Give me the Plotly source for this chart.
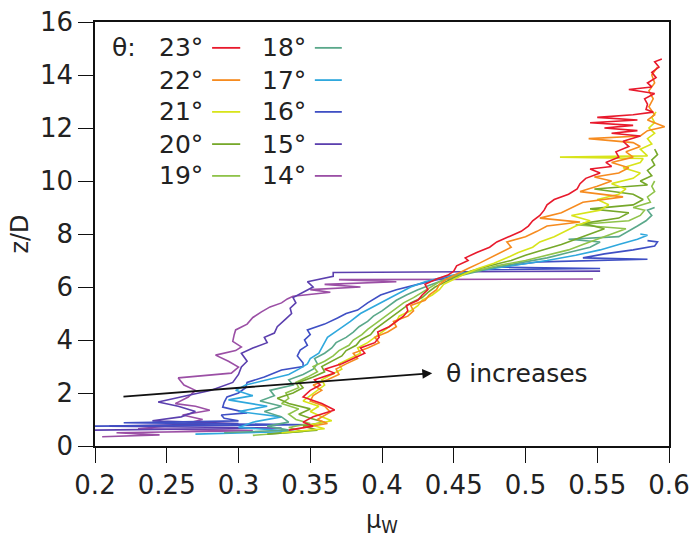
import plotly.graph_objects as go

# ---------------- data (z/D, mu_W) pairs ----------------
theta = [23, 22, 21, 20, 19, 18, 17, 16, 15, 14]
colors = ['#e8192c', '#f68b1f', '#d8e41a', '#76a82a', '#8fc34a',
          '#5aa88a', '#2fa8dd', '#3f4fc4', '#5b3fae', '#9b4fa5']

curve_23 = [(0.6,0.335),(0.75,0.352),(0.9,0.345),(1.1,0.352),(1.36,0.367),(1.6,0.358),(1.85,0.345),
            (2.1,0.350),(2.3,0.357),(2.5,0.353),(2.75,0.367),(2.9,0.360),(3.1,0.372),(3.3,0.380),
            (3.5,0.388),(3.7,0.385),(3.9,0.395),(4.1,0.398),(4.3,0.397),(4.5,0.405),(4.7,0.410),
            (4.9,0.415),(5.1,0.418),(5.3,0.417),(5.5,0.425),(5.7,0.428),(5.9,0.432),(6.1,0.430),
            (6.3,0.438),(6.45,0.446),(6.6,0.450),(6.8,0.452),(7.0,0.460),(7.1,0.458),(7.3,0.466),
            (7.5,0.475),(7.7,0.480),(7.9,0.488),(8.1,0.497),(8.3,0.502),(8.5,0.505),(8.7,0.510),
            (8.9,0.513),(9.1,0.515),(9.3,0.520),(9.5,0.530),(9.7,0.536),(9.9,0.538),(10.1,0.542),
            (10.3,0.552),(10.45,0.545),(10.55,0.560),(10.7,0.556),(10.9,0.565),(11.1,0.563),
            (11.3,0.572),(11.5,0.568),(11.7,0.580),(11.8,0.560),(11.9,0.578),(12.0,0.555),
            (12.1,0.575),(12.2,0.545),(12.3,0.578),(12.4,0.550),(12.5,0.575),(12.6,0.589),
            (12.7,0.584),(12.9,0.585),(13.1,0.583),(13.3,0.590),(13.45,0.572),(13.55,0.588),
            (13.7,0.585),(13.9,0.591),(14.1,0.588),(14.3,0.593),(14.5,0.590),(14.6,0.595)]

curve_22 = [(0.7,0.345),(0.85,0.362),(1.0,0.355),(1.28,0.364),(1.5,0.360),(1.7,0.350),(1.9,0.352),
            (2.1,0.358),(2.3,0.352),(2.5,0.362),(2.7,0.370),(2.9,0.368),(3.1,0.375),(3.3,0.383),
            (3.5,0.380),(3.7,0.390),(3.9,0.398),(4.1,0.395),(4.3,0.404),(4.5,0.410),(4.7,0.408),
            (4.9,0.418),(5.1,0.422),(5.3,0.420),(5.5,0.430),(5.7,0.433),(5.9,0.438),(6.1,0.440),
            (6.3,0.445),(6.5,0.452),(6.7,0.460),(6.9,0.468),(7.1,0.475),(7.3,0.482),(7.5,0.490),
            (7.7,0.487),(7.9,0.500),(8.1,0.508),(8.3,0.515),(8.45,0.538),(8.6,0.510),(8.8,0.525),
            (9.0,0.533),(9.2,0.540),(9.4,0.568),(9.6,0.538),(9.8,0.550),(10.0,0.560),(10.15,0.548),
            (10.3,0.565),(10.5,0.572),(10.7,0.560),(10.9,0.575),(11.1,0.570),(11.3,0.580),
            (11.45,0.575),(11.6,0.544),(11.7,0.580),(11.9,0.585),(12.05,0.597),(12.3,0.585),
            (12.5,0.590),(12.8,0.586),(13.1,0.589),(13.4,0.586),(13.7,0.590),(14.0,0.588),(14.3,0.592)]

curve_21 = [(0.5,0.330),(0.65,0.360),(0.8,0.350),(0.95,0.365),(1.1,0.358),(1.3,0.350),(1.5,0.356),
            (1.7,0.345),(1.9,0.350),(2.1,0.355),(2.3,0.360),(2.5,0.358),(2.7,0.365),(2.9,0.372),
            (3.1,0.370),(3.3,0.378),(3.5,0.385),(3.7,0.383),(3.9,0.390),(4.1,0.395),(4.3,0.400),
            (4.5,0.405),(4.7,0.410),(4.9,0.412),(5.1,0.420),(5.3,0.425),(5.5,0.428),(5.7,0.435),
            (5.9,0.440),(6.1,0.443),(6.3,0.450),(6.5,0.458),(6.7,0.467),(6.9,0.478),(7.1,0.487),
            (7.3,0.495),(7.5,0.505),(7.7,0.510),(7.9,0.520),(8.1,0.528),(8.3,0.535),(8.5,0.545),
            (8.7,0.532),(8.9,0.552),(9.1,0.558),(9.3,0.550),(9.5,0.565),(9.7,0.570),(9.9,0.560),
            (10.1,0.575),(10.3,0.580),(10.5,0.568),(10.7,0.580),(10.85,0.582),(10.9,0.524),
            (10.95,0.585),(11.2,0.580),(11.4,0.588),(11.6,0.585),(11.8,0.590),(12.0,0.586),
            (12.2,0.590),(12.4,0.588),(12.6,0.591)]

curve_20 = [(0.45,0.320),(0.6,0.355),(0.75,0.345),(0.9,0.360),(1.05,0.350),(1.2,0.342),(1.4,0.350),
            (1.6,0.335),(1.8,0.327),(2.0,0.338),(2.2,0.345),(2.4,0.342),(2.6,0.352),(2.8,0.360),
            (3.0,0.358),(3.2,0.365),(3.4,0.372),(3.6,0.375),(3.8,0.382),(4.0,0.385),(4.2,0.392),
            (4.4,0.395),(4.6,0.400),(4.8,0.405),(5.0,0.410),(5.2,0.415),(5.4,0.420),(5.6,0.428),
            (5.8,0.432),(6.0,0.437),(6.2,0.444),(6.4,0.452),(6.6,0.462),(6.8,0.475),(7.0,0.490),
            (7.2,0.500),(7.4,0.512),(7.6,0.525),(7.8,0.535),(8.0,0.545),(8.2,0.555),(8.4,0.540),
            (8.6,0.565),(8.8,0.572),(8.95,0.545),(9.1,0.575),(9.3,0.582),(9.5,0.575),(9.7,0.548),
            (9.85,0.585),(10.0,0.580),(10.2,0.588),(10.4,0.585),(10.6,0.590),(10.8,0.588),(11.0,0.592),
            (11.2,0.590)]

curve_19 = [(0.4,0.310),(0.55,0.345),(0.7,0.335),(0.85,0.350),(1.0,0.340),(1.2,0.335),(1.4,0.342),
            (1.6,0.330),(1.8,0.335),(2.0,0.333),(2.2,0.342),(2.4,0.340),(2.6,0.348),(2.8,0.355),
            (3.0,0.352),(3.2,0.360),(3.4,0.366),(3.6,0.370),(3.8,0.377),(4.0,0.380),(4.2,0.386),
            (4.4,0.390),(4.6,0.395),(4.8,0.400),(5.0,0.405),(5.2,0.410),(5.4,0.415),(5.6,0.422),
            (5.8,0.428),(6.0,0.433),(6.2,0.440),(6.4,0.450),(6.6,0.465),(6.8,0.480),(7.0,0.500),
            (7.2,0.515),(7.4,0.530),(7.6,0.540),(7.8,0.550),(8.0,0.560),(8.2,0.570),(8.35,0.535),
            (8.5,0.572),(8.7,0.580),(8.9,0.583),(9.0,0.575),(9.2,0.587),(9.4,0.585),(9.6,0.590),
            (9.8,0.588),(10.0,0.590)]

curve_18 = [(0.5,0.290),(0.6,0.335),(0.75,0.320),(0.9,0.335),(1.1,0.330),(1.3,0.318),(1.5,0.330),
            (1.7,0.315),(1.9,0.325),(2.1,0.322),(2.3,0.338),(2.5,0.335),(2.7,0.345),(2.9,0.352),
            (3.1,0.355),(3.3,0.353),(3.5,0.360),(3.7,0.365),(3.9,0.368),(4.1,0.375),(4.3,0.380),
            (4.5,0.384),(4.7,0.390),(4.9,0.394),(5.1,0.400),(5.3,0.405),(5.5,0.410),(5.7,0.417),
            (5.9,0.425),(6.1,0.435),(6.3,0.445),(6.5,0.460),(6.7,0.475),(6.9,0.495),(7.1,0.515),
            (7.3,0.530),(7.5,0.545),(7.7,0.552),(7.8,0.530),(7.9,0.565),(8.1,0.572),(8.3,0.578),
            (8.5,0.584),(8.7,0.588),(8.9,0.585),(9.0,0.590)]

curve_17 = [(0.45,0.270),(0.55,0.340),(0.7,0.300),(0.9,0.310),(1.1,0.330),(1.3,0.300),(1.5,0.320),
            (1.74,0.293),(1.9,0.310),(2.1,0.298),(2.3,0.305),(2.5,0.320),(2.7,0.335),(2.9,0.342),
            (3.1,0.348),(3.3,0.350),(3.5,0.356),(3.7,0.358),(3.9,0.360),(4.1,0.362),(4.4,0.370),
            (4.7,0.378),(5.0,0.385),(5.2,0.392),(5.4,0.398),(5.6,0.405),(5.8,0.412),(6.0,0.420),
            (6.2,0.430),(6.4,0.445),(6.6,0.465),(6.8,0.490),(7.0,0.515),(7.2,0.535),(7.4,0.552),
            (7.6,0.565),(7.8,0.578),(7.95,0.585),(8.0,0.580)]

curve_16 = [(0.75,0.200),(0.8,0.350),(0.88,0.220),(0.95,0.300),(1.05,0.290),(1.17,0.288),(1.25,0.306),
            (1.47,0.289),(1.65,0.290),(1.85,0.292),(2.0,0.300),(2.2,0.305),(2.4,0.306),(2.6,0.318),
            (2.87,0.330),(3.0,0.345),(3.13,0.345),(3.4,0.341),(3.62,0.343),(3.8,0.348),(4.0,0.346),
            (4.2,0.350),(4.38,0.348),(4.6,0.360),(4.83,0.369),(5.0,0.375),(5.13,0.383),(5.4,0.390),
            (5.7,0.399),(5.9,0.410),(6.1,0.425),(6.3,0.440),(6.5,0.455),(6.65,0.470),(6.7,0.552),
            (6.75,0.480),(6.95,0.510),(7.05,0.585),(7.1,0.540),(7.25,0.555),(7.4,0.575),(7.55,0.590),
            (7.7,0.592),(7.75,0.585)]

curve_15 = [(0.6,0.200),(0.68,0.330),(0.75,0.210),(0.85,0.300),(0.95,0.240),(1.1,0.260),(1.3,0.270),
            (1.5,0.258),(1.66,0.244),(1.85,0.260),(2.1,0.281),(2.4,0.296),(2.7,0.300),(2.98,0.302),
            (3.2,0.306),(3.5,0.302),(3.7,0.310),(3.9,0.320),(4.1,0.318),(4.26,0.325),(4.5,0.327),
            (4.8,0.333),(5.0,0.337),(5.2,0.336),(5.4,0.340),(5.6,0.338),(5.8,0.345),(6.0,0.352),
            (6.2,0.348),(6.4,0.366),(6.55,0.366),(6.6,0.552)]

curve_14 = [(0.35,0.205),(0.42,0.245),(0.5,0.215),(0.58,0.310),(0.65,0.230),(0.8,0.260),(1.0,0.275),
            (1.17,0.261),(1.35,0.280),(1.5,0.270),(1.6,0.256),(1.85,0.265),(2.1,0.270),(2.3,0.262),
            (2.57,0.258),(2.75,0.295),(2.98,0.300),(3.2,0.293),(3.43,0.284),(3.6,0.298),(3.74,0.302),
            (3.95,0.296),(4.2,0.297),(4.38,0.298),(4.6,0.306),(4.85,0.310),(5.06,0.316),(5.25,0.322),
            (5.4,0.330),(5.55,0.334),(5.65,0.338),(5.8,0.364),(5.9,0.350),(6.0,0.385),(6.1,0.360),
            (6.2,0.410),(6.28,0.370),(6.3,0.547)]

curves = [curve_23, curve_22, curve_21, curve_20, curve_19,
          curve_18, curve_17, curve_16, curve_15, curve_14]

x_ticks = [0.2, 0.25, 0.3, 0.35, 0.4, 0.45, 0.5, 0.55, 0.6]
x_ticktext = ['0.2', '0.25', '0.3', '0.35', '0.4', '0.45', '0.5', '0.55', '0.6']
y_ticks = [0, 2, 4, 6, 8, 10, 12, 14, 16]

FONT = 'DejaVu Sans'
TXT = '#222222'

fig = go.Figure()
# draw low theta first so high theta lies on top
for th, col, cv in reversed(list(zip(theta, colors, curves))):
    fig.add_trace(go.Scatter(
        x=[p[1] for p in cv], y=[p[0] for p in cv], mode='lines',
        line=dict(color=col, width=1.6), name=f'{th}°', showlegend=False))

# ---- custom legend (text followed by line sample, 2 columns) ----
row_y = [0.939, 0.863, 0.788, 0.712, 0.637]
col_text_right = [0.192, 0.371]
col_line = [(0.204, 0.253), (0.383, 0.430)]
annotations = [dict(xref='paper', yref='paper', x=0.026, y=row_y[0], text='θ:',
                    showarrow=False, xanchor='left', yanchor='middle',
                    font=dict(family=FONT, size=25, color=TXT))]
shapes = []
for i, (th, col) in enumerate(zip(theta, colors)):
    c, r = divmod(i, 5)
    annotations.append(dict(xref='paper', yref='paper', x=col_text_right[c], y=row_y[r],
                            text=f'{th}°', showarrow=False, xanchor='right', yanchor='middle',
                            font=dict(family=FONT, size=25, color=TXT)))
    shapes.append(dict(type='line', xref='paper', yref='paper',
                       x0=col_line[c][0], x1=col_line[c][1], y0=row_y[r], y1=row_y[r],
                       line=dict(color=col, width=1.8)))

# ---- arrow + label ----
annotations.append(dict(x=0.435, y=2.75, ax=0.216, ay=1.85, xref='x', yref='y',
                        axref='x', ayref='y', text=' ', showarrow=True,
                        arrowhead=2, arrowsize=1.1, arrowwidth=1.8, arrowcolor='#111111'))
annotations.append(dict(x=0.443, y=2.75, xref='x', yref='y', text='θ increases',
                        showarrow=False, xanchor='left', yanchor='middle',
                        font=dict(family=FONT, size=25, color=TXT)))

fig.update_layout(
    width=699, height=537,
    margin=dict(l=95, r=30, t=22, b=91),
    paper_bgcolor='white', plot_bgcolor='white',
    font=dict(family=FONT, size=25, color=TXT),
    annotations=annotations, shapes=shapes,
    showlegend=False,
)
fig.update_xaxes(range=[0.2, 0.6], tickvals=x_ticks, ticktext=x_ticktext, automargin=False,
                 ticklabeloverflow='allow',
                 showgrid=False, zeroline=False, showline=True, linecolor='#111111',
                 linewidth=1.5, mirror=True, ticks='outside', ticklen=15, tickwidth=1.3,
                 tickcolor='#111111', tickfont=dict(family=FONT, size=26, color=TXT),
                 title=dict(text='μ<sub>W</sub>', standoff=12,
                            font=dict(family=FONT, size=24, color=TXT)))
fig.update_yaxes(range=[0, 16], tickvals=y_ticks, automargin=False,
                 ticklabeloverflow='allow',
                 showgrid=False, zeroline=False, showline=True, linecolor='#111111',
                 linewidth=1.5, mirror=True, ticks='outside', ticklen=15, tickwidth=1.3,
                 tickcolor='#111111', tickfont=dict(family=FONT, size=26, color=TXT),
                 title=dict(text='z/D', standoff=5,
                            font=dict(family=FONT, size=24, color=TXT)))

# remove the default 8px page margin so the figure sits at the window origin
fig.write_html('out.html', config={'displayModeBar': False},
               post_script="document.body.style.margin='0';document.body.style.overflow='hidden';")
